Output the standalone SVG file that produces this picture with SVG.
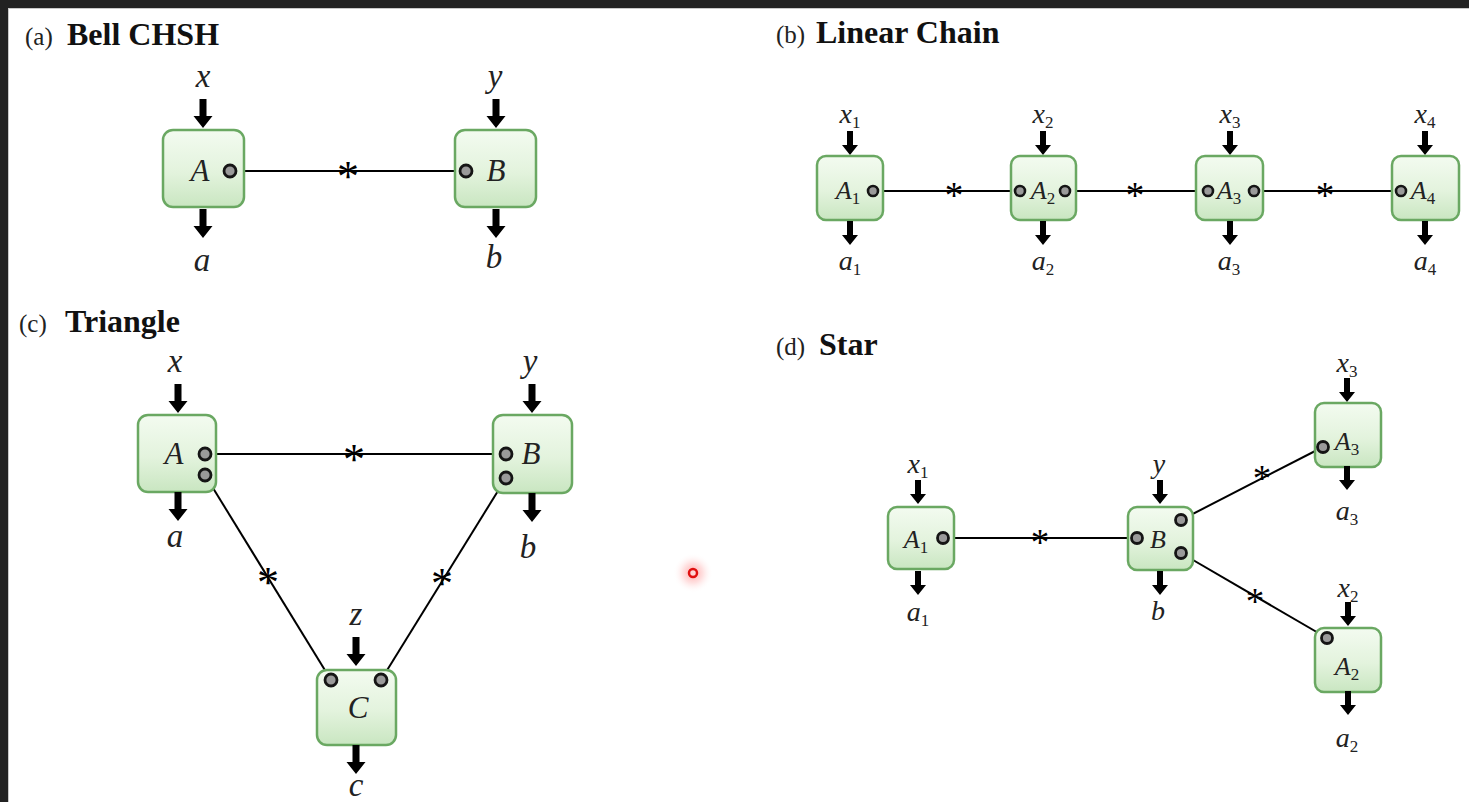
<svg xmlns="http://www.w3.org/2000/svg" xmlns:xlink="http://www.w3.org/1999/xlink" width="1469" height="802" viewBox="0 0 1469 802">
<defs>
<linearGradient id="boxg" x1="0" y1="0" x2="0" y2="1">
<stop offset="0" stop-color="#f3fbf0"/>
<stop offset="0.55" stop-color="#e3f3dd"/>
<stop offset="1" stop-color="#c9e6c1"/>
</linearGradient>
<radialGradient id="glow" cx="0.5" cy="0.5" r="0.5">
<stop offset="0" stop-color="#ff5a5a" stop-opacity="0.55"/>
<stop offset="0.5" stop-color="#ff9a9a" stop-opacity="0.3"/>
<stop offset="1" stop-color="#ffffff" stop-opacity="0"/>
</radialGradient>
<path id="ad" d="M-3.5,-29 H3.5 V-12 H9.5 L0,0 L-9.5,-12 H-3.5 Z" fill="#000"/>
<path id="ads" d="M-3,-24 H3 V-10 H8 L0,0 L-8,-10 H-3 Z" fill="#000"/>
</defs>
<style>
.bg{fill:#ffffff}
.frame{fill:#222222}
.box{fill:url(#boxg);stroke:#6aa862;stroke-width:2.5}
.port{fill:#9a9a9a;stroke:#151515;stroke-width:2.8}
.ports{fill:#9a9a9a;stroke:#151515;stroke-width:2.6}
.wire{stroke:#000;stroke-width:2;fill:none}
.ttl{font-family:"Liberation Serif","Times New Roman",serif;font-weight:bold;font-size:32px;fill:#111}
.tag{font-family:"Liberation Serif","Times New Roman",serif;font-size:25px;fill:#222}
.lbl{font-family:"Liberation Serif","Times New Roman",serif;font-style:italic;font-size:33px;fill:#222;text-anchor:middle}
.lbls{font-family:"Liberation Serif","Times New Roman",serif;font-style:italic;font-size:28px;fill:#222;text-anchor:middle}
.cap{font-family:"Liberation Serif","Times New Roman",serif;font-style:italic;font-size:31px;fill:#222;text-anchor:middle}
.caps{font-family:"Liberation Serif","Times New Roman",serif;font-style:italic;font-size:26px;fill:#222;text-anchor:middle}
.sub{font-style:normal;font-size:17px}
.ast{font-family:"Liberation Serif","Times New Roman",serif;font-size:44px;fill:#000;text-anchor:middle}
.asts{font-family:"Liberation Serif","Times New Roman",serif;font-size:37px;fill:#000;text-anchor:middle}
</style>
<rect class="bg" x="0" y="0" width="1469" height="802"/>
<rect class="frame" x="0" y="0" width="1469" height="8"/>
<rect class="frame" x="0" y="0" width="8" height="802"/>
<line x1="8.5" y1="8" x2="8.5" y2="802" stroke="#c8c8c8" stroke-width="1"/>
<line x1="8" y1="8.5" x2="1469" y2="8.5" stroke="#c8c8c8" stroke-width="1"/>

<!-- titles -->
<g id="titles">
<text class="tag" x="25" y="45">(a)</text><text class="ttl" x="67" y="45">Bell CHSH</text>
<text class="tag" x="776" y="43">(b)</text><text class="ttl" x="816" y="43">Linear Chain</text>
<text class="tag" x="19" y="332">(c)</text><text class="ttl" x="65" y="332">Triangle</text>
<text class="tag" x="776" y="355">(d)</text><text class="ttl" x="819" y="355">Star</text>
</g>

<!-- connectors -->
<g id="connectors">
<line class="wire" x1="230" y1="171" x2="466" y2="171"/>
<text class="ast" x="348" y="191">*</text>
<line class="wire" x1="873" y1="191" x2="1020" y2="191"/>
<line class="wire" x1="1065" y1="191" x2="1208" y2="191"/>
<line class="wire" x1="1254" y1="191" x2="1401" y2="191"/>
<text class="asts" x="954" y="208">*</text>
<text class="asts" x="1135" y="208">*</text>
<text class="asts" x="1325" y="208">*</text>
<line class="wire" x1="205" y1="454" x2="506" y2="454"/>
<line class="wire" x1="205" y1="475" x2="331" y2="680"/>
<line class="wire" x1="506" y1="478" x2="381" y2="680"/>
<text class="ast" x="354" y="474">*</text>
<text class="ast" x="268" y="597">*</text>
<text class="ast" x="442" y="598">*</text>
<line class="wire" x1="943" y1="538" x2="1137" y2="538"/>
<line class="wire" x1="1181" y1="520" x2="1323" y2="447"/>
<line class="wire" x1="1181" y1="553" x2="1327" y2="638"/>
<text class="asts" x="1040" y="555">*</text>
<text class="asts" x="1262" y="491">*</text>
<text class="asts" x="1255" y="614">*</text>
</g>

<!-- (a) -->
<g id="a-A">
<use href="#ad" x="203" y="128"/>
<rect class="box" x="163" y="130" width="81" height="77" rx="10"/>
<use href="#ad" x="203" y="238"/>
<text class="lbl" x="203" y="87">x</text>
<text class="cap" x="200" y="181">A</text>
<text class="lbl" x="202" y="271">a</text>
<circle class="port" cx="230" cy="171" r="6"/>
</g>
<g id="a-B">
<use href="#ad" x="496" y="128"/>
<rect class="box" x="455" y="130" width="81" height="77" rx="10"/>
<use href="#ad" x="496" y="238"/>
<text class="lbl" x="495" y="87">y</text>
<text class="cap" x="496" y="181">B</text>
<text class="lbl" x="494" y="268">b</text>
<circle class="port" cx="466" cy="171" r="6"/>
</g>

<!-- (b) -->
<g id="b-A1">
<use href="#ads" x="850" y="155"/>
<rect class="box" x="817" y="156" width="66" height="64" rx="9"/>
<use href="#ads" x="850" y="245"/>
<text class="lbls" x="850" y="123">x<tspan class="sub" dy="5">1</tspan></text>
<text class="caps" x="848" y="199">A<tspan class="sub" dy="5">1</tspan></text>
<text class="lbls" x="850" y="270">a<tspan class="sub" dy="5">1</tspan></text>
<circle class="ports" cx="873" cy="191" r="5"/>
</g>
<g id="b-A2">
<use href="#ads" x="1043" y="155"/>
<rect class="box" x="1011" y="156" width="65" height="64" rx="9"/>
<use href="#ads" x="1043" y="245"/>
<text class="lbls" x="1043" y="123">x<tspan class="sub" dy="5">2</tspan></text>
<text class="caps" x="1043" y="199">A<tspan class="sub" dy="5">2</tspan></text>
<text class="lbls" x="1043" y="270">a<tspan class="sub" dy="5">2</tspan></text>
<circle class="ports" cx="1020" cy="191" r="5"/>
<circle class="ports" cx="1065" cy="191" r="5"/>
</g>
<g id="b-A3">
<use href="#ads" x="1230" y="155"/>
<rect class="box" x="1196" y="156" width="67" height="64" rx="9"/>
<use href="#ads" x="1230" y="245"/>
<text class="lbls" x="1230" y="123">x<tspan class="sub" dy="5">3</tspan></text>
<text class="caps" x="1229" y="199">A<tspan class="sub" dy="5">3</tspan></text>
<text class="lbls" x="1229" y="270">a<tspan class="sub" dy="5">3</tspan></text>
<circle class="ports" cx="1208" cy="191" r="5"/>
<circle class="ports" cx="1254" cy="191" r="5"/>
</g>
<g id="b-A4">
<use href="#ads" x="1425" y="155"/>
<rect class="box" x="1392" y="156" width="67" height="64" rx="9"/>
<use href="#ads" x="1425" y="245"/>
<text class="lbls" x="1425" y="123">x<tspan class="sub" dy="5">4</tspan></text>
<text class="caps" x="1423" y="199">A<tspan class="sub" dy="5">4</tspan></text>
<text class="lbls" x="1425" y="270">a<tspan class="sub" dy="5">4</tspan></text>
<circle class="ports" cx="1401" cy="191" r="5"/>
</g>

<!-- (c) -->
<g id="c-A">
<use href="#ad" x="178" y="413"/>
<rect class="box" x="138" y="415" width="78" height="77" rx="10"/>
<use href="#ad" x="178" y="521"/>
<text class="lbl" x="175" y="372">x</text>
<text class="cap" x="174" y="464">A</text>
<text class="lbl" x="175" y="547">a</text>
<circle class="port" cx="205" cy="454" r="6"/>
<circle class="port" cx="205" cy="475" r="6"/>
</g>
<g id="c-B">
<use href="#ad" x="532" y="413"/>
<rect class="box" x="493" y="415" width="79" height="78" rx="10"/>
<use href="#ad" x="532" y="522"/>
<text class="lbl" x="530" y="372">y</text>
<text class="cap" x="531" y="464">B</text>
<text class="lbl" x="528" y="558">b</text>
<circle class="port" cx="506" cy="454" r="6"/>
<circle class="port" cx="506" cy="478" r="6"/>
</g>
<g id="c-C">
<use href="#ad" x="356" y="666"/>
<rect class="box" x="317" y="670" width="79" height="75" rx="10"/>
<use href="#ad" x="356" y="774"/>
<text class="lbl" x="356" y="625">z</text>
<text class="cap" x="358" y="718">C</text>
<text class="lbl" x="356" y="796">c</text>
<circle class="port" cx="331" cy="680" r="6"/>
<circle class="port" cx="381" cy="680" r="6"/>
</g>

<!-- (d) -->
<g id="d-A1">
<use href="#ads" x="918" y="504"/>
<rect class="box" x="888" y="507" width="66" height="62" rx="9"/>
<use href="#ads" x="918" y="595"/>
<text class="lbls" x="918" y="473">x<tspan class="sub" dy="5">1</tspan></text>
<text class="caps" x="916" y="548">A<tspan class="sub" dy="5">1</tspan></text>
<text class="lbls" x="918" y="621">a<tspan class="sub" dy="5">1</tspan></text>
<circle class="port" cx="943" cy="538" r="5.5"/>
</g>
<g id="d-B">
<use href="#ads" x="1160" y="504"/>
<rect class="box" x="1128" y="507" width="65" height="63" rx="9"/>
<use href="#ads" x="1160" y="595"/>
<text class="lbls" x="1159" y="473">y</text>
<text class="caps" x="1158" y="548">B</text>
<text class="lbls" x="1158" y="620">b</text>
<circle class="port" cx="1137" cy="538" r="5.5"/>
<circle class="port" cx="1181" cy="520" r="5.5"/>
<circle class="port" cx="1181" cy="553" r="5.5"/>
</g>
<g id="d-A3">
<use href="#ads" x="1347" y="402"/>
<rect class="box" x="1315" y="403" width="66" height="64" rx="9"/>
<use href="#ads" x="1347" y="490"/>
<text class="lbls" x="1347" y="372">x<tspan class="sub" dy="5">3</tspan></text>
<text class="caps" x="1347" y="450">A<tspan class="sub" dy="5">3</tspan></text>
<text class="lbls" x="1347" y="520">a<tspan class="sub" dy="5">3</tspan></text>
<circle class="port" cx="1323" cy="447" r="5.5"/>
</g>
<g id="d-A2">
<use href="#ads" x="1348" y="626"/>
<rect class="box" x="1315" y="628" width="66" height="64" rx="9"/>
<use href="#ads" x="1348" y="715"/>
<text class="lbls" x="1348" y="597">x<tspan class="sub" dy="5">2</tspan></text>
<text class="caps" x="1347" y="675">A<tspan class="sub" dy="5">2</tspan></text>
<text class="lbls" x="1347" y="747">a<tspan class="sub" dy="5">2</tspan></text>
<circle class="port" cx="1327" cy="638" r="5.5"/>
</g>

<!-- pointer dot -->
<g id="pointer">
<circle cx="693" cy="573" r="20" fill="url(#glow)"/>
<circle cx="693" cy="573" r="4" fill="#ffd6d6" stroke="#e01010" stroke-width="2.5"/>
</g>
</svg>
